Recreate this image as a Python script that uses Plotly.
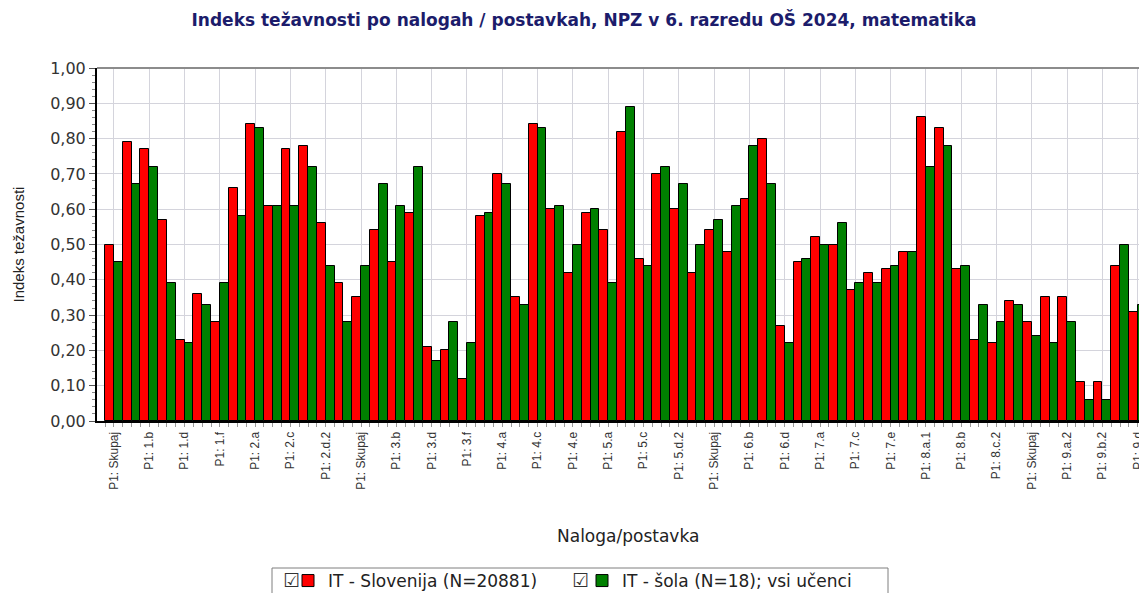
import plotly.graph_objects as go

categories = [
    "P1: Skupaj", "P1: 1.a", "P1: 1.b", "P1: 1.c", "P1: 1.d", "P1: 1.e", "P1: 1.f", "P1: 1.g",
    "P1: 2.a", "P1: 2.b", "P1: 2.c", "P1: 2.d.1", "P1: 2.d.2", "P1: 2.e",
    "P1: Skupaj", "P1: 3.a", "P1: 3.b", "P1: 3.c", "P1: 3.d", "P1: 3.e", "P1: 3.f", "P1: 3.g",
    "P1: 4.a", "P1: 4.b", "P1: 4.c", "P1: 4.d", "P1: 4.e", "P1: 4.f",
    "P1: 5.a", "P1: 5.b", "P1: 5.c", "P1: 5.d.1", "P1: 5.d.2", "P1: 5.e",
    "P1: Skupaj", "P1: 6.a", "P1: 6.b", "P1: 6.c", "P1: 6.d", "P1: 6.e",
    "P1: 7.a", "P1: 7.b", "P1: 7.c", "P1: 7.d", "P1: 7.e", "P1: 7.f",
    "P1: 8.a.1", "P1: 8.a.2", "P1: 8.b", "P1: 8.c.1", "P1: 8.c.2", "P1: 8.d",
    "P1: Skupaj", "P1: 9.a.1", "P1: 9.a.2", "P1: 9.b.1", "P1: 9.b.2", "P1: 9.c", "P1: 9.d",
]

slovenija = [
    0.50, 0.79, 0.77, 0.57, 0.23, 0.36, 0.28, 0.66, 0.84, 0.61, 0.77, 0.78, 0.56, 0.39,
    0.35, 0.54, 0.45, 0.59, 0.21, 0.20, 0.12, 0.58, 0.70, 0.35, 0.84, 0.60, 0.42, 0.59,
    0.54, 0.82, 0.46, 0.70, 0.60, 0.42, 0.54, 0.48, 0.63, 0.80, 0.27, 0.45,
    0.52, 0.50, 0.37, 0.42, 0.43, 0.48, 0.86, 0.83, 0.43, 0.23, 0.22, 0.34,
    0.28, 0.35, 0.35, 0.11, 0.11, 0.44, 0.31,
]

sola = [
    0.45, 0.67, 0.72, 0.39, 0.22, 0.33, 0.39, 0.58, 0.83, 0.61, 0.61, 0.72, 0.44, 0.28,
    0.44, 0.67, 0.61, 0.72, 0.17, 0.28, 0.22, 0.59, 0.67, 0.33, 0.83, 0.61, 0.50, 0.60,
    0.39, 0.89, 0.44, 0.72, 0.67, 0.50, 0.57, 0.61, 0.78, 0.67, 0.22, 0.46,
    0.50, 0.56, 0.39, 0.39, 0.44, 0.48, 0.72, 0.78, 0.44, 0.33, 0.28, 0.33,
    0.24, 0.22, 0.28, 0.06, 0.06, 0.50, 0.33,
]

series_names = ["IT - Slovenija (N=20881)", "IT - šola (N=18); vsi učenci"]
series_colors = ["#FF0000", "#008000"]

x_idx = list(range(len(categories)))
tick_vals = x_idx[::2]
tick_text = categories[::2]

W, H = 1139, 593
L, T, B = 97, 68, 172
plot_w = W - L
plot_h = H - T - B


def px_x(p):
    return (p - L) / plot_w


def px_y(p):
    return (T + plot_h - p) / plot_h


WIDE = "DejaVu Sans, Verdana, sans-serif"
ARIAL = "Liberation Sans, Arial, sans-serif"

fig = go.Figure()
for name, vals, col in zip(series_names, [slovenija, sola], series_colors):
    fig.add_trace(go.Bar(
        x=x_idx, y=vals, name=name,
        marker=dict(color=col, line=dict(color="#000000", width=1)),
    ))

fig.update_layout(
    width=W, height=H,
    margin=dict(l=L, r=0, t=T, b=B, autoexpand=False),
    paper_bgcolor="white", plot_bgcolor="white",
    barmode="group", bargap=0, bargroupgap=0,
    separators=", ",
    font=dict(family=ARIAL, color="#333333"),
    title=dict(
        text="<b>Indeks težavnosti po nalogah / postavkah, NPZ v 6. razredu OŠ 2024, matematika</b>",
        x=584 / W, xref="container", xanchor="center",
        y=1 - 20 / H, yref="container", yanchor="middle",
        font=dict(size=17, color="#1C1C6B", family=WIDE),
    ),
    showlegend=True,
    legend=dict(
        orientation="h",
        xref="container", x=288 / W, xanchor="left",
        yref="container", y=1 - 563 / H, yanchor="top",
        bgcolor="rgba(0,0,0,0)", borderwidth=0,
        font=dict(size=17, color="#222222", family=WIDE),
        itemwidth=30, traceorder="normal",
        entrywidth=249, entrywidthmode="pixels",
    ),
    xaxis=dict(
        range=[-0.96, 58.07],
        tickmode="array", tickvals=tick_vals, ticktext=tick_text,
        tickangle=-90, tickfont=dict(size=12, color="#333333", family=ARIAL),
        ticklabeloverflow="allow",
        showgrid=True, gridcolor="#d4d4dc", gridwidth=1,
        showline=True, linecolor="#000000", linewidth=2,
        ticks="outside", ticklen=4, tickcolor="#9a9a9a",
        minor=dict(tickmode="linear", tick0=0, dtick=0.5, ticklen=4,
                   tickcolor="#9a9a9a", showgrid=False),
        zeroline=False,
    ),
    yaxis=dict(
        range=[0, 1.0],
        tickmode="linear", tick0=0, dtick=0.1, tickformat=".2f",
        tickfont=dict(size=16, color="#333333", family=WIDE),
        showgrid=True, gridcolor="#d4d4dc", gridwidth=1,
        showline=True, linecolor="#000000", linewidth=2,
        ticks="outside", ticklen=6, tickcolor="#555555",
        minor=dict(tickmode="linear", tick0=0, dtick=0.02, ticklen=3,
                   tickcolor="#888888", showgrid=False),
        zeroline=False,
    ),
    shapes=[
        dict(type="line", xref="paper", yref="paper", x0=0, x1=1, y0=1, y1=1,
             line=dict(color="#8c8c8c", width=2)),
        dict(type="rect", xref="paper", yref="paper",
             x0=px_x(272), x1=px_x(888), y0=px_y(568), y1=px_y(605),
             line=dict(color="#7f7f7f", width=1), fillcolor="rgba(0,0,0,0)"),
    ],
    annotations=[
        dict(text="Indeks težavnosti", textangle=-90, showarrow=False,
             xref="paper", yref="paper", x=px_x(18), y=0.5,
             xanchor="center", yanchor="middle",
             font=dict(size=15, color="#222222", family=ARIAL)),
        dict(text="Naloga/postavka", showarrow=False,
             xref="paper", yref="paper", x=px_x(628), y=px_y(536),
             xanchor="center", yanchor="middle",
             font=dict(size=17, color="#222222", family=WIDE)),
        dict(text="☑", showarrow=False,
             xref="paper", yref="paper", x=px_x(291), y=px_y(580),
             xanchor="center", yanchor="middle",
             font=dict(size=19, color="#333333", family=WIDE)),
        dict(text="☑", showarrow=False,
             xref="paper", yref="paper", x=px_x(580), y=px_y(580),
             xanchor="center", yanchor="middle",
             font=dict(size=19, color="#333333", family=WIDE)),
    ],
)

fig.write_html(
    "out.html",
    config={"displayModeBar": False},
    post_script="document.body.style.margin='0px';document.body.style.overflow='hidden';",
)
